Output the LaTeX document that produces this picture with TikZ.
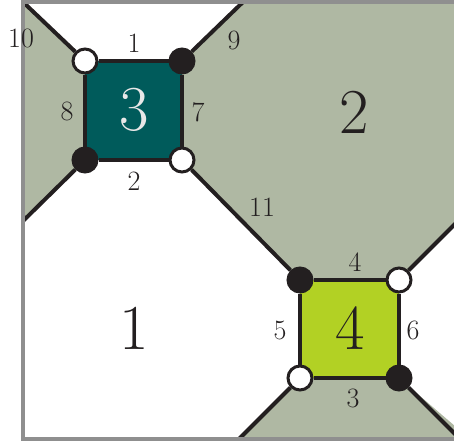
\documentclass[tikz,border=0pt]{standalone}
\usepackage{tikz}
\usepackage{xcolor}
\usetikzlibrary{backgrounds,positioning}
\definecolor{FaceSage}{HTML}{AFB8A3}
\definecolor{FaceTeal}{HTML}{005B5B}
\definecolor{FaceLime}{HTML}{B2D124}
\definecolor{EdgeInk}{HTML}{231F20}
\definecolor{FrameGray}{HTML}{8F8F8F}
\definecolor{LabelLight}{HTML}{E8E8E8}

\begin{document}
\begin{tikzpicture}[x=1pt, y=-1pt,
  edge/.style={line width=4pt, draw=EdgeInk},
  frameline/.style={line width=4pt, draw=FrameGray},
  bvert/.style={circle, fill=EdgeInk, draw=EdgeInk, line width=3pt,
                minimum size=24pt, inner sep=0pt},
  wvert/.style={circle, fill=white, draw=EdgeInk, line width=3pt,
                minimum size=24pt, inner sep=0pt},
  elabel/.style={font=\fontsize{28}{30}\selectfont, text=EdgeInk, inner sep=0pt},
  flabel/.style={font=\fontsize{64}{66}\selectfont, text=EdgeInk, inner sep=0pt}
]
  \useasboundingbox (0,0) rectangle (454,444);
  \clip (0,0) rectangle (454,444);

  % vertices
  \node[wvert] (v1) at (85,61) {};
  \node[bvert] (v2) at (182,61) {};
  \node[bvert] (v3) at (85,160) {};
  \node[wvert] (v4) at (182,160) {};
  \node[bvert] (v5) at (300,280) {};
  \node[wvert] (v6) at (399,280) {};
  \node[wvert] (v7) at (300,378) {};
  \node[bvert] (v8) at (399,378) {};

  % loose ends on the frame
  \coordinate (t10) at (23,2);
  \coordinate (t8) at (23,221);
  \coordinate (t9) at (243,2);
  \coordinate (t6) at (470,209);
  \coordinate (t5) at (239,439);
  \coordinate (t3) at (460,439);
  \coordinate (tr) at (470,2);
  \coordinate (br) at (470,439);
  \coordinate (bl) at (23,439);

  % faces
  \begin{scope}[on background layer]
    \fill[FaceSage] (t10) -- (v1.center) -- (v3.center) -- (t8) -- cycle;
    \fill[FaceSage] (t9) -- (tr) -- (t6) -- (v6.center) -- (v5.center)
                    -- (v4.center) -- (v2.center) -- cycle;
    \fill[FaceSage] (v7.center) -- (t5) -- (br) -- (v8.center) -- cycle;
    \fill[FaceTeal] (v1.center) -- (v2.center) -- (v4.center) -- (v3.center) -- cycle;
    \fill[FaceLime] (v5.center) -- (v6.center) -- (v8.center) -- (v7.center) -- cycle;
  \end{scope}

  % edges
  \draw[edge] (v1) -- (v2);
  \draw[edge] (v3) -- (v4);
  \draw[edge] (v2) -- (v4);
  \draw[edge] (v1) -- (v3);
  \draw[edge] (v1) -- (t10);
  \draw[edge] (v3) -- (t8);
  \draw[edge] (v2) -- (t9);
  \draw[edge] (v4) -- (v5);
  \draw[edge] (v5) -- (v6);
  \draw[edge] (v7) -- (v8);
  \draw[edge] (v5) -- (v7);
  \draw[edge] (v6) -- (v8);
  \draw[edge] (v6) -- (t6);
  \draw[edge] (v7) -- (t5);
  \draw[edge] (v8) -- (t3);

  \draw[frameline] (tr) -- (t10) -- (bl) -- (br);

  % edge numbers
  \node[elabel] (n1) at (134,43) {1};
  \node[elabel] (n2) at (134,181) {2};
  \node[elabel] (n3) at (353,398) {3};
  \node[elabel] (n4) at (355,262) {4};
  \node[elabel] (n5) at (280,330) {5};
  \node[elabel] (n6) at (413,330) {6};
  \node[elabel] (n7) at (198,112) {7};
  \node[elabel] (n8) at (67,111) {8};
  \node[elabel] (n9) at (234,40) {9};
  \node[elabel] (n10) at (21,38) {10};
  \node[elabel] (n11) at (262,207) {11};

  % face numbers
  \node[flabel, text=LabelLight] (f3) at (134,110) {3};
  \node[flabel] (f2) at (354,112) {2};
  \node[flabel] (f1) at (134,328) {1};
  \node[flabel] (f4) at (350,328) {4};
\end{tikzpicture}
\end{document}
